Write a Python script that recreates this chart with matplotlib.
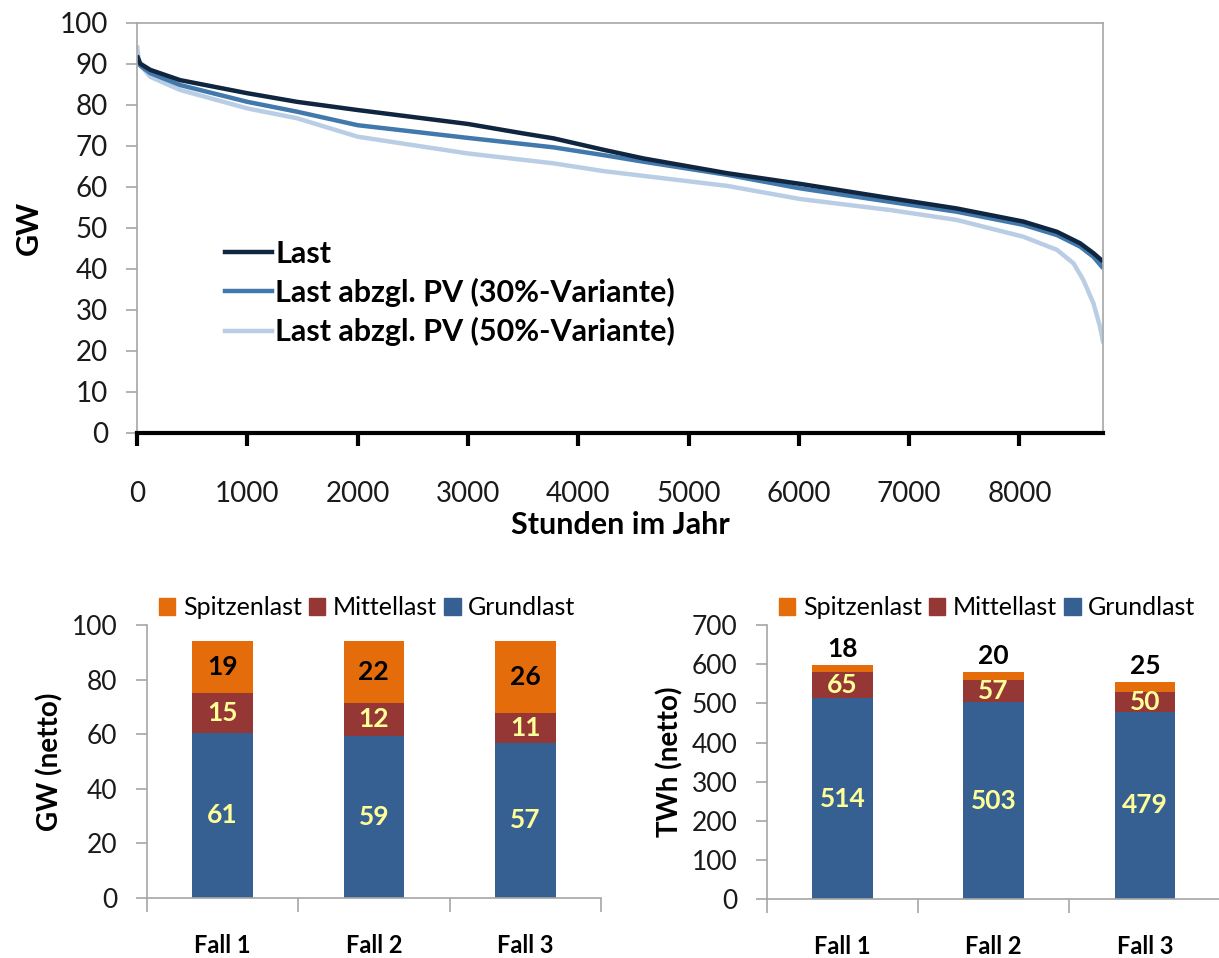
import matplotlib
matplotlib.use("Agg")
import matplotlib.pyplot as plt
from matplotlib.patches import Patch
from matplotlib.lines import Line2D

plt.rcParams['font.family'] = ['Lato', 'DejaVu Sans']

# Jahresdauerlinien
h_last = [0, 30, 120, 390, 1000, 1450, 2000, 3000, 3500, 3775, 4230, 4590, 5350, 6010, 6830, 7430, 8035, 8340, 8550, 8670, 8760]
last = [92.0, 90.0, 88.5, 86.0, 82.8, 80.7, 78.7, 75.3, 73.0, 71.8, 69.0, 66.9, 63.3, 60.7, 57.2, 54.7, 51.5, 49.0, 46.2, 43.8, 41.7]

h_pv30 = [0, 30, 120, 390, 1000, 1450, 2000, 3000, 3775, 4230, 4590, 5350, 6010, 6830, 7430, 8035, 8340, 8550, 8670, 8760]
pv30 = [91.5, 89.5, 87.7, 84.8, 80.7, 78.3, 75.0, 71.9, 69.6, 67.7, 66.1, 62.9, 59.6, 56.3, 53.9, 50.7, 48.2, 45.4, 42.9, 40.1]

h_pv50 = [0, 20, 120, 390, 1000, 1450, 2000, 3000, 3775, 4230, 5350, 6010, 6830, 7430, 8035, 8340, 8490, 8580, 8670, 8730, 8760]
pv50 = [94.5, 90.0, 86.8, 83.6, 79.1, 76.7, 72.2, 68.1, 65.7, 63.8, 60.2, 57.0, 54.3, 51.9, 47.8, 44.6, 41.3, 37.2, 31.6, 25.9, 21.8]

faelle = ['Fall 1', 'Fall 2', 'Fall 3']
# Leistung GW (netto)
gw_grund = [60.6, 59.4, 56.8]
gw_mittel = [14.6, 12.2, 11.0]
gw_spitze = [19.0, 22.4, 26.2]
# Arbeit TWh (netto)
twh_grund = [514, 503, 479]
twh_mittel = [65, 57, 50]
twh_spitze = [18, 20, 25]

c_spitze = '#E46C0A'
c_mittel = '#953735'
c_grund = '#376092'
c_label = '#FFFF99'
grey = '#A6A6A6'

W, H = 1219, 958
fig = plt.figure(figsize=(W / 100, H / 100), dpi=100)


def rect(l, t, r, b):
    return [l / W, 1 - b / H, (r - l) / W, (b - t) / H]


# ---- oben: Jahresdauerlinie ----
ax = fig.add_axes(rect(137, 22.7, 1103.3, 432.7))
ax.plot(h_pv50, pv50, color='#B9CDE5', lw=3.2, solid_capstyle='butt')
ax.plot(h_pv30, pv30, color='#4279AC', lw=3.2, solid_capstyle='butt')
ax.plot(h_last, last, color='#10253F', lw=3.2, solid_capstyle='butt')
ax.set_xlim(0, 8760)
ax.set_ylim(0, 100)
ax.set_xticks(range(0, 9000, 1000))
ax.set_yticks(range(0, 101, 10))
for s in ['top', 'right', 'left']:
    ax.spines[s].set_color(grey)
    ax.spines[s].set_linewidth(1.2)
ax.spines['bottom'].set_color('black')
ax.spines['bottom'].set_linewidth(3)
ax.tick_params(axis='y', colors=grey, length=8, width=1.2, labelcolor='#1a1a1a', labelsize=20, pad=13)
ax.tick_params(axis='x', colors='black', length=9, width=3, labelcolor='#1a1a1a', labelsize=20, pad=26)
ax.set_ylabel('GW', fontsize=22, fontweight='bold', labelpad=12)
ax.set_xlabel('Stunden im Jahr', fontsize=22, fontweight='bold', labelpad=3)
handles = [Line2D([], [], color='#10253F', lw=3.2),
           Line2D([], [], color='#4279AC', lw=3.2),
           Line2D([], [], color='#B9CDE5', lw=3.2)]
ax.legend(handles, ['Last', 'Last abzgl. PV (30%-Variante)', 'Last abzgl. PV (50%-Variante)'],
          loc='upper left', bbox_to_anchor=(0.078, 0.5), frameon=False,
          prop={'size': 22, 'weight': 'bold'}, handlelength=1.55, handletextpad=0.1,
          labelspacing=0.33, borderaxespad=0)


def bar_panel(box, grund, mittel, spitze, ymax, ystep, ylabel, spitze_oben):
    a = fig.add_axes(box)
    x = list(range(len(faelle)))
    bottom2 = [g + m for g, m in zip(grund, mittel)]
    a.bar(x, grund, width=0.4, color=c_grund)
    a.bar(x, mittel, width=0.4, bottom=grund, color=c_mittel)
    a.bar(x, spitze, width=0.4, bottom=bottom2, color=c_spitze)
    for i in x:
        a.text(i, grund[i] / 2, f'{grund[i]:.0f}', ha='center', va='center',
               color=c_label, fontsize=19, fontweight='bold')
        a.text(i, grund[i] + mittel[i] / 2, f'{mittel[i]:.0f}', ha='center', va='center',
               color=c_label, fontsize=19, fontweight='bold')
        if spitze_oben:
            a.annotate(f'{spitze[i]:.0f}', (i, bottom2[i] + spitze[i]), xytext=(0, 3),
                       textcoords='offset points', ha='center', va='bottom',
                       color='black', fontsize=19, fontweight='bold')
        else:
            a.text(i, bottom2[i] + spitze[i] / 2, f'{spitze[i]:.0f}', ha='center', va='center',
                   color='black', fontsize=19, fontweight='bold')
    a.set_xlim(-0.5, 2.5)
    a.set_ylim(0, ymax)
    a.set_yticks(range(0, ymax + 1, ystep))
    a.set_xticks(x)
    a.set_xticklabels(faelle, fontsize=17, fontweight='bold')
    a.set_xticks([-0.5, 0.5, 1.5, 2.5], minor=True)
    a.tick_params(axis='x', which='major', length=0, pad=26)
    a.tick_params(axis='x', which='minor', length=10, width=1.2, colors=grey)
    a.tick_params(axis='y', length=8, width=1.2, colors=grey, labelcolor='#1a1a1a', labelsize=19, pad=13)
    for s in ['top', 'right']:
        a.spines[s].set_visible(False)
    for s in ['left', 'bottom']:
        a.spines[s].set_color(grey)
        a.spines[s].set_linewidth(1.2)
    a.set_ylabel(ylabel, fontsize=20, fontweight='bold', labelpad=6)
    leg = [Patch(color=c_spitze), Patch(color=c_mittel), Patch(color=c_grund)]
    a.legend(leg, ['Spitzenlast', 'Mittellast', 'Grundlast'], ncol=3, frameon=False,
             loc='lower left', bbox_to_anchor=(0.005, 0.985), borderaxespad=0,
             prop={'size': 18}, handlelength=0.65, handleheight=0.65, handletextpad=0.3,
             columnspacing=0.3)
    return a


bar_panel(rect(146.7, 625, 601, 898), gw_grund, gw_mittel, gw_spitze, 100, 20, 'GW (netto)', False)
bar_panel(rect(766.7, 625, 1220.5, 899.3), twh_grund, twh_mittel, twh_spitze, 700, 100, 'TWh (netto)', True)

fig.savefig('out.png', dpi=100)
